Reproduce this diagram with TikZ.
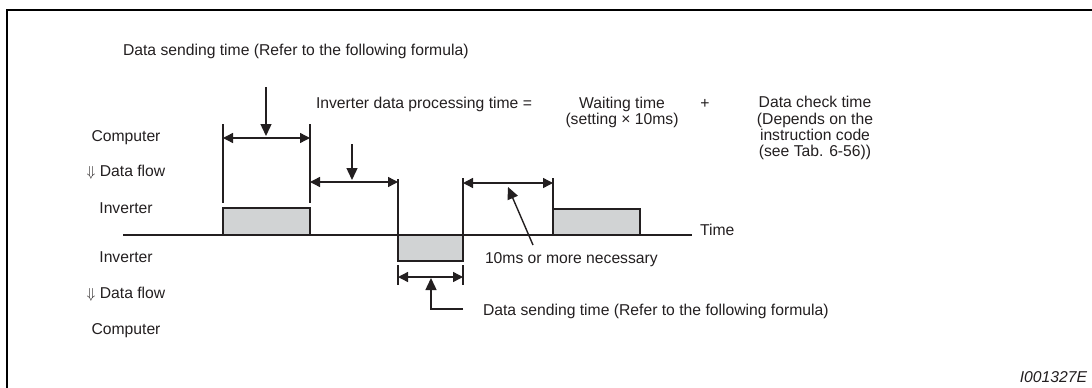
\documentclass[tikz,border=0pt]{standalone}
\usepackage{fontspec}
\setmainfont{Liberation Sans}
\usetikzlibrary{arrows.meta}
\definecolor{boxgray}{HTML}{D1D3D4}
\definecolor{inkcol}{HTML}{231F20}
\begin{document}
\begin{tikzpicture}[x=1pt,y=-1pt,
  every node/.style={inner sep=0pt,outer sep=0pt,text=inkcol,font=\fontsize{15.7}{16.3}\selectfont},
  ln/.style={draw=inkcol,line width=1.4pt},
  dim/.style={ln,{Triangle[length=10pt,width=10pt]}-{Triangle[length=10pt,width=10pt]}},
  ptr/.style={ln,-{Triangle[length=12pt,width=11pt]}},
  pulse/.style={draw=inkcol,line width=1.5pt,fill=boxgray},
  lbl/.style={anchor=base west},
  side/.style={anchor=base}]
\useasboundingbox (0,0) rectangle (1092,388);
% frame
\draw[line width=2.2pt,black] (7,400) -- (7,10) -- (1100,10);
% coordinates
\coordinate (a1) at (223,124); \coordinate (a1b) at (223,203);
\coordinate (a2) at (310,124); \coordinate (a2b) at (310,203);
\coordinate (a3) at (398,179); \coordinate (a3b) at (398,235);
\coordinate (a4) at (463,178); \coordinate (a4b) at (463,235);
\coordinate (a5) at (553,178); \coordinate (a5b) at (553,209);
\coordinate (t0) at (123,235); \coordinate (t1) at (692,235);
% vertical extension lines
\draw[ln] (a1) -- (a1b);
\draw[ln] (a2) -- (a2b);
\draw[ln] (a3) -- (a3b);
\draw[ln] (a4) -- (a4b);
\draw[ln] (a5) -- (a5b);
% pulses
\draw[pulse] (223,235) rectangle (310,208);
\draw[pulse] (398,235) rectangle (463,261);
\draw[pulse] (553,235) rectangle (640,209);
% time axis
\draw[ln] (t0) -- (t1);
% dimension arrows
\coordinate (d1l) at (223,138); \coordinate (d1r) at (310,138);
\coordinate (d2l) at (310,182); \coordinate (d2r) at (398,182);
\coordinate (d3l) at (463,183); \coordinate (d3r) at (553,183);
\draw[dim] (d1l) -- (d1r);
\draw[dim] (d2l) -- (d2r);
\draw[dim] (d3l) -- (d3r);
% pointers
\coordinate (p1s) at (266,87); \coordinate (p1e) at (266,136);
\coordinate (p2s) at (352,144); \coordinate (p2e) at (352,180);
\draw[ptr] (p1s) -- (p1e);
\draw[ptr] (p2s) -- (p2e);
\coordinate (p3s) at (533,245); \coordinate (p3e) at (508,187);
\draw[ptr] (p3s) -- (p3e);
% bottom dimension
\draw[ln] (398,265) -- (398,285);
\draw[ln] (463,265) -- (463,285);
\coordinate (d4l) at (398,277); \coordinate (d4r) at (463,277);
\draw[dim] (d4l) -- (d4r);
\coordinate (p4c) at (431,309); \coordinate (p4e) at (431,278); \coordinate (p4r) at (463,309);
\draw[ptr] (p4r) -- (p4c) -- (p4e);
% labels
\node[lbl] (ttop) at (123,55) {Data sending time (Refer to the following formula)};
\node[lbl] (tproc) at (316,108) {Inverter data processing time =};
\node[anchor=north,align=center] (twait) at (622,96.8) {Waiting time\\(setting × 10ms)};
\node[side] (tplus) at (705,108) {+};
\node[anchor=north,align=center] (tcheck) at (815,96.6) {Data check time\\(Depends on the\\instruction code\\(see Tab. 6-56))};
\node[side] (c1) at (126,141) {Computer};
\node[side] (f1) at (126,176) {$\Downarrow$ Data flow};
\node[side] (i1) at (126,213) {Inverter};
\node[side] (i2) at (126,262) {Inverter};
\node[side] (f2) at (126,298) {$\Downarrow$ Data flow};
\node[side] (c2) at (126,334) {Computer};
\node[lbl] (ttime) at (700,235) {Time};
\node[lbl] (t10) at (485,263) {10ms or more necessary};
\node[lbl] (tbot) at (483,315) {Data sending time (Refer to the following formula)};
\node[anchor=base east,font=\fontsize{15.7}{16.3}\selectfont\itshape] (tid) at (1087,382) {I001327E};
\end{tikzpicture}
\end{document}
